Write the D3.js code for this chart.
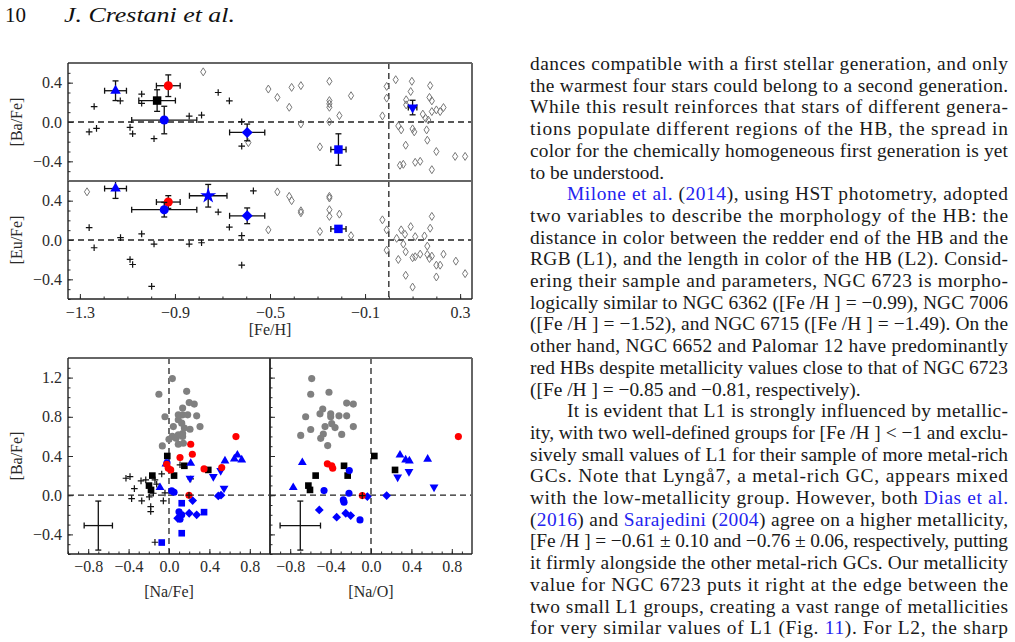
<!DOCTYPE html>
<html>
<head>
<meta charset="utf-8">
<script src="https://cdn.jsdelivr.net/npm/d3@7"></script>
<style>
  body { margin: 0; background: #fff; }
  svg { display: block; }
</style>
</head>
<body>
<script>
// ---------- data ----------

// top panels: small literature stars (+) and open-cluster stars (open diamonds)
var baPlus = [[-1.24,0.157],[-1.261,-0.10],[-1.23,-0.065],[-1.13,0.215],[-1.089,-0.055],[-1.078,-0.12],
  [-1.04,0.284],[-1.04,0.19],[-0.988,-0.17],[-0.84,0.06],[-0.788,0.07],[-0.718,0.30],[-0.671,0.215],
  [-0.619,0.003],[-0.619,-0.246]];
var euPlus = [[-1.261,0.126],[-1.24,-0.079],[-1.129,0.024],[-1.089,-0.198],[-1.078,-0.249],[-1.04,0.062],
  [-0.988,-0.041],[-0.998,-0.472],[-0.84,-0.041],[-0.788,-0.028],[-0.718,0.284],[-0.671,0.13],
  [-0.619,0.044],[-0.619,-0.256],[-0.57,0.50]];
var baOpen = [[-0.781,0.51],[-0.507,0.335],[-0.469,0.25],[-0.409,0.352],[-0.37,0.37],[-0.419,0.15],
  [-0.37,-0.02],[-0.25,0.414],[-0.25,0.218],[-0.25,0.185],[-0.25,0.15],[-0.25,0.003],[-0.208,0.065],
  [-0.159,0.267],[-0.29,-0.253],[-0.591,-0.21],[-0.027,0.062],[-0.009,0.362],[-0.009,0.243],[0.029,0.43],
  [0.073,0.226],[0.073,0.174],[0.097,0.414],[0.092,0.31],[0.04,-0.04],[0.052,-0.08],[0.10,-0.07],
  [0.107,-0.10],[0.071,-0.236],[0.047,-0.44],[0.061,-0.43],[0.111,-0.41],[0.132,-0.40],[0.174,0.37],
  [0.171,0.25],[0.181,0.215],[0.143,0.08],[0.155,0.038],[0.166,0.02],[0.181,0.106],[0.20,0.123],
  [0.216,0.106],[0.23,0.147],[0.159,-0.08],[0.162,-0.185],[0.20,-0.30],[0.181,-0.485],[0.279,-0.35],
  [0.321,-0.35]];
var euOpen = [[-1.27,0.49],[-0.469,0.489],[-0.419,0.444],[-0.409,0.40],[-0.37,0.297],[-0.37,0.277],
  [-0.507,0.103],[-0.29,0.086],[-0.25,0.444],[-0.25,0.427],[-0.25,0.308],[-0.25,0.24],[-0.208,0.263],
  [-0.159,0.044],[-0.027,0.205],[-0.009,0.103],[-0.009,-0.103],[0.033,0.017],[0.04,-0.198],[0.052,0.103],
  [0.061,-0.041],[0.068,0.058],[0.071,-0.12],[0.071,-0.359],[0.092,0.136],[0.10,-0.18],[0.111,-0.17],
  [0.111,0.034],[0.10,-0.479],[0.132,-0.144],[0.15,0.041],[0.162,-0.062],[0.162,-0.147],[0.171,-0.188],
  [0.174,0.12],[0.181,0.24],[0.181,-0.164],[0.20,-0.256],[0.20,-0.376],[0.216,-0.256],[0.23,-0.144],
  [0.282,-0.215],[0.321,-0.342]];

// top panels: cluster means with error bars
var grpKind   = ["triUp","red","black","circle","diamond","square","triDown","star"];
var grpFeH    = [-1.15, -0.928, -0.975, -0.945, -0.596, -0.212, 0.100, -0.76];
var grpFeHErr = [0.046, 0.05, 0.077, 0.137, 0.074, 0.032, 0.018, 0.079];
var grpBa     = [0.318, 0.369, 0.218, 0.02, -0.106, -0.28, 0.147, null];
var grpBaErr  = [0.10, 0.11, 0.11, 0.14, 0.085, 0.16, 0.074, null];
var grpEu     = [0.523, 0.386, null, 0.308, 0.246, 0.113, null, 0.45];
var grpEuErr  = [0.10, 0.065, null, 0.074, 0.08, 0.0, null, 0.115];

// bottom left: [Ba/Fe] vs [Na/Fe]
var naGray = [[-0.066,0.503],[-0.04,0.80],[-0.10,1.03],[0.033,1.19],[0.033,0.60],[0.043,0.70],[0.092,0.82],
  [0.092,0.77],[0.092,0.615],[0.126,0.735],[0.135,0.89],[0.135,0.82],[0.135,0.63],[0.135,0.60],[0.152,0.685],
  [0.175,1.06],[0.185,0.82],[0.20,0.945],[0.25,0.93],[0.274,0.81],[0.307,0.70],[0.208,0.673],[0.142,0.53],
  [0.092,0.52],[0.07,0.58],[0.0,0.57]];
var naRed = [[0.663,0.598],[0.215,0.52],[0.231,0.418],[0.109,0.384],[0.347,0.268],[0.522,0.282],
  [-0.023,0.316],[-0.007,0.275],[0.017,0.258],[0.198,0.0]];
var naBlack = [[-0.017,0.40],[0.152,0.30],[0.389,0.258],[-0.165,0.20],[0.05,0.20],[-0.198,0.098],[-0.178,0.054]];
var naTriUp = [[0.215,0.326],[-0.089,0.078],[0.554,0.35],[0.647,0.37],[0.677,0.41],[0.72,0.36],[-0.03,0.32]];
var naTriDown = [[0.208,0.173],[0.439,0.19],[0.512,0.251],[0.545,0.071]];
var naCircle = [[0.027,0.044],[0.05,0.03],[0.099,-0.17],[0.126,-0.2],[0.109,-0.245],[-0.02,0.33]];
var naSquare = [[0.126,-0.082],[0.126,-0.388],[0.347,-0.173],[-0.072,-0.483]];
var naDiamond = [[0.234,-0.055],[0.20,-0.184],[0.274,-0.2],[0.488,-0.007],[0.515,0.0],[0.086,-0.235]];
var naPlus = [[-0.426,0.173],[-0.386,0.19],[-0.343,0.067],[-0.37,-0.035],[-0.27,-0.058],[-0.277,0.146],
  [-0.23,0.156],[-0.195,-0.017],[-0.181,-0.116],[-0.181,-0.167],[-0.155,0.02],[-0.139,0.156],[-0.122,0.112],
  [-0.072,0.217],[-0.056,-0.058],[-0.04,0.023],[0.109,0.31],[0.215,0.166],[-0.139,-0.48],[0.198,0.0]];

// bottom right: [Ba/Fe] vs [Na/O]
var noGray = [[-0.587,1.19],[-0.597,1.03],[-0.416,1.05],[-0.241,0.94],[-0.175,0.93],[-0.478,0.88],
  [-0.505,0.83],[-0.647,0.80],[-0.399,0.83],[-0.399,0.80],[-0.317,0.81],[-0.241,0.81],[-0.455,0.70],
  [-0.389,0.73],[-0.356,0.69],[-0.597,0.67],[-0.175,0.70],[-0.696,0.61],[-0.29,0.62],[-0.472,0.625],
  [-0.498,0.58],[-0.429,0.506]];
var noRed = [[0.865,0.598],[-0.432,0.32],[-0.389,0.30],[-0.379,0.275],[-0.086,-0.004]];
var noBlack = [[0.033,0.40],[-0.267,0.30],[0.238,0.258],[-0.548,0.20],[-0.231,0.20],[-0.62,0.098],[-0.604,0.054]];
var noTriUp = [[-0.68,0.333],[-0.77,0.078],[0.287,0.41],[0.343,0.36],[0.38,0.35],[0.561,0.367]];
var noTriDown = [[0.376,0.241],[0.264,0.184],[0.624,0.082]];
var noCircle = [[-0.215,0.251],[-0.465,0.047],[-0.218,0.02],[-0.274,-0.048],[-0.267,-0.071],[-0.109,-0.252]];
var noDiamond = [[-0.036,-0.014],[0.155,-0.004],[-0.512,-0.15],[-0.34,-0.224],[-0.25,-0.184],[-0.201,-0.208]];
var noPlus = [[-0.086,-0.004]];

// typical error crosses (x, y, xerr, yerr)
var errLeft  = [-0.70, -0.31, 0.14, 0.25];
var errRight = [-0.70, -0.31, 0.20, 0.25];

// tick labels
var fehTicks = [-1.3, -0.9, -0.5, -0.1, 0.3];
var abTicks  = [-0.4, 0.0, 0.4];
var baTicks  = [-0.4, 0.0, 0.4, 0.8, 1.2];
var naTicks  = [-0.8, -0.4, 0.0, 0.4, 0.8];

// ---------- page ----------
var w = 1015, h = 642;
var serif = "Liberation Serif, DejaVu Serif, serif";
var blue = "#0000ff", red = "#ff0000";

var svg = d3.select("body").append("svg").attr("width", w).attr("height", h);

svg.append("text").attr("x", 5).attr("y", 22).attr("font-family", serif)
  .attr("font-size", 21).attr("fill", "#111").text("10");
svg.append("text").attr("x", 64).attr("y", 22).attr("font-family", serif)
  .attr("font-size", 21).attr("font-style", "italic").attr("fill", "#111")
  .attr("textLength", 171).attr("lengthAdjust", "spacingAndGlyphs").text("J. Crestani et al.");

// scales
var xFe = d3.scaleLinear().domain([-1.35, 0.35]).range([68, 472]);
var yBa = d3.scaleLinear().domain([-0.6, 0.6]).range([181, 63]);
var yEu = d3.scaleLinear().domain([-0.6, 0.6]).range([299, 181]);
var xNa = d3.scaleLinear().domain([-1, 1]).range([68, 270]);
var xNo = d3.scaleLinear().domain([-1, 1]).range([270, 472]);
var yB2 = d3.scaleLinear().domain([-0.6, 1.4]).range([554, 358]);

var tenths = function (a, b) { return d3.range(a, b + 1).map(function (i) { return i / 10; }); };

// marker shapes
var shapes = {
  circle:  d3.symbol().type(d3.symbolCircle).size(64)(),
  square:  d3.symbol().type(d3.symbolSquare).size(72)(),
  triUp:   d3.symbol().type(d3.symbolTriangle).size(48)(),
  star:    d3.symbol().type(d3.symbolStar).size(80)(),
  diamond: "M0,-5.5L5.5,0L0,5.5L-5.5,0Z",
  circleS: d3.symbol().type(d3.symbolCircle).size(40)(),
  squareS: d3.symbol().type(d3.symbolSquare).size(44)(),
  triS:    d3.symbol().type(d3.symbolTriangle).size(34)(),
  diamondS:"M0,-4.4L4.4,0L0,4.4L-4.4,0Z",
  thin:    "M0,-4L2.6,0L0,4L-2.6,0Z",
  plus:    "M-3.3,0H3.3M0,-3.3V3.3"
};

function clip(id, x0, y0, x1, y1) {
  svg.append("clipPath").attr("id", id).append("rect")
    .attr("x", x0).attr("y", y0).attr("width", x1 - x0).attr("height", y1 - y0);
  return svg.append("g").attr("clip-path", "url(#" + id + ")");
}

function points(g, data, xs, ys, path, fill, stroke, sw, flip) {
  g.append("g").selectAll("path").data(data).enter().append("path")
    .attr("d", path)
    .attr("transform", function (d) {
      return "translate(" + xs(d[0]) + "," + ys(d[1]) + ")" + (flip ? " rotate(180)" : "");
    })
    .attr("fill", fill).attr("stroke", stroke || "none").attr("stroke-width", sw || 1);
}

function errbar(g, x, y, xe, ye, xs, ys, cap) {
  var e = g.append("g").attr("stroke", "#111").attr("stroke-width", 1.3).attr("fill", "none");
  if (xe > 0) {
    e.append("line").attr("x1", xs(x - xe)).attr("x2", xs(x + xe)).attr("y1", ys(y)).attr("y2", ys(y));
    [x - xe, x + xe].forEach(function (v) {
      e.append("line").attr("x1", xs(v)).attr("x2", xs(v)).attr("y1", ys(y) - cap).attr("y2", ys(y) + cap);
    });
  }
  if (ye > 0) {
    e.append("line").attr("x1", xs(x)).attr("x2", xs(x)).attr("y1", ys(y - ye)).attr("y2", ys(y + ye));
    [y - ye, y + ye].forEach(function (v) {
      e.append("line").attr("y1", ys(v)).attr("y2", ys(v)).attr("x1", xs(x) - cap).attr("x2", xs(x) + cap);
    });
  }
}

function dashed(g, x1, y1, x2, y2) {
  g.append("line").attr("x1", x1).attr("y1", y1).attr("x2", x2).attr("y2", y2)
    .attr("stroke", "#222").attr("stroke-width", 1.3).attr("stroke-dasharray", "6,4");
}

function styleAxis(s) {
  s.select(".domain").remove();
  s.attr("font-family", serif).attr("font-size", 16).attr("color", "#2a2a2a");
  s.selectAll(".tick line").attr("stroke-width", 1);
}

function leftAxis(y, x0, major, minor, labels) {
  svg.append("g").attr("transform", "translate(" + x0 + ",0)")
    .call(d3.axisLeft(y).tickValues(minor).tickSize(-2.5).tickFormat("")).call(styleAxis);
  svg.append("g").attr("transform", "translate(" + x0 + ",0)")
    .call(d3.axisLeft(y).tickValues(major).tickSize(-5).tickPadding(6)
      .tickFormat(labels ? d3.format(".1f") : "")).call(styleAxis);
}

function bottomAxis(x, y0, major, minor, pad) {
  svg.append("g").attr("transform", "translate(0," + y0 + ")")
    .call(d3.axisBottom(x).tickValues(minor).tickSize(-2.5).tickFormat("")).call(styleAxis);
  svg.append("g").attr("transform", "translate(0," + y0 + ")")
    .call(d3.axisBottom(x).tickValues(major).tickSize(-5).tickPadding(pad)
      .tickFormat(d3.format(".1f"))).call(styleAxis);
}

function frame(x0, y0, x1, y1) {
  svg.append("line").attr("x1", x0).attr("x2", x1).attr("y1", y0).attr("y2", y0)
    .attr("stroke", "#666").attr("stroke-width", 2.2);
  svg.append("line").attr("x1", x1).attr("x2", x1).attr("y1", y0).attr("y2", y1)
    .attr("stroke", "#666").attr("stroke-width", 2);
  svg.append("line").attr("x1", x0).attr("x2", x0).attr("y1", y0).attr("y2", y1)
    .attr("stroke", "#222").attr("stroke-width", 1.4);
  svg.append("line").attr("x1", x0).attr("x2", x1).attr("y1", y1).attr("y2", y1)
    .attr("stroke", "#222").attr("stroke-width", 1.4);
}

function axisLabel(text, x, y, rotate) {
  svg.append("text").attr("font-family", serif).attr("font-size", 16).attr("fill", "#2a2a2a")
    .attr("text-anchor", "middle")
    .attr("transform", "translate(" + x + "," + y + ")" + (rotate ? " rotate(-90)" : ""))
    .text(text);
}

// ---------- top figure: [Ba/Fe] and [Eu/Fe] vs [Fe/H] ----------
var topPanels = [
  { y: yBa, y0: 63, y1: 181, plus: baPlus, open: baOpen, val: grpBa, err: grpBaErr, id: "cBa" },
  { y: yEu, y0: 181, y1: 299, plus: euPlus, open: euOpen, val: grpEu, err: grpEuErr, id: "cEu" }
];

topPanels.forEach(function (p) {
  var g = clip(p.id, 68, p.y0, 472, p.y1);
  dashed(g, 68, p.y(0), 472, p.y(0));
  dashed(g, xFe(0), p.y0, xFe(0), p.y1);
  points(g, p.open, xFe, p.y, shapes.thin, "none", "#777", 1);
  points(g, p.plus, xFe, p.y, shapes.plus, "none", "#111", 1.2);
  grpKind.forEach(function (k, i) {
    if (p.val[i] === null) return;
    errbar(g, grpFeH[i], p.val[i], grpFeHErr[i], p.err[i], xFe, p.y, 3);
    var d = [[grpFeH[i], p.val[i]]];
    if (k === "triUp")   points(g, d, xFe, p.y, shapes.triUp, blue);
    if (k === "triDown") points(g, d, xFe, p.y, shapes.triUp, blue, null, 1, true);
    if (k === "red")     points(g, d, xFe, p.y, shapes.circle, red);
    if (k === "black")   points(g, d, xFe, p.y, shapes.square, "#000");
    if (k === "circle")  points(g, d, xFe, p.y, shapes.circle, blue);
    if (k === "diamond") points(g, d, xFe, p.y, shapes.diamond, blue);
    if (k === "square")  points(g, d, xFe, p.y, shapes.square, blue);
    if (k === "star")    points(g, d, xFe, p.y, shapes.star, blue);
  });
  leftAxis(p.y, 68, abTicks, tenths(-6, 6), true);
  frame(68, p.y0, 472, p.y1);
});
bottomAxis(xFe, 299, fehTicks, tenths(-13, 3), 8);
axisLabel("[Ba/Fe]", 22, 122, true);
axisLabel("[Eu/Fe]", 22, 240, true);
axisLabel("[Fe/H]", 270, 335, false);

// ---------- bottom figure: [Ba/Fe] vs [Na/Fe] and [Na/O] ----------
var botPanels = [
  { x: xNa, x0: 68, x1: 270, id: "cNa", gray: naGray, red: naRed, black: naBlack, up: naTriUp,
    down: naTriDown, circ: naCircle, sq: naSquare, dia: naDiamond, plus: naPlus, err: errLeft },
  { x: xNo, x0: 270, x1: 472, id: "cNo", gray: noGray, red: noRed, black: noBlack, up: noTriUp,
    down: noTriDown, circ: noCircle, sq: [], dia: noDiamond, plus: noPlus, err: errRight }
];

botPanels.forEach(function (p) {
  var g = clip(p.id, p.x0, 358, p.x1, 554);
  dashed(g, p.x0, yB2(0), p.x1, yB2(0));
  dashed(g, p.x(0), 358, p.x(0), 554);
  errbar(g, p.err[0], p.err[1], p.err[2], p.err[3], p.x, yB2, 3);
  points(g, p.gray, p.x, yB2, shapes.circleS, "#808080");
  points(g, p.plus.slice(0, -1), p.x, yB2, shapes.plus, "none", "#111", 1.2);
  points(g, p.black, p.x, yB2, shapes.squareS, "#000");
  points(g, p.up, p.x, yB2, shapes.triS, blue);
  points(g, p.down, p.x, yB2, shapes.triS, blue, null, 1, true);
  points(g, p.circ, p.x, yB2, shapes.circleS, blue);
  points(g, p.sq, p.x, yB2, shapes.squareS, blue);
  points(g, p.dia, p.x, yB2, shapes.diamondS, blue);
  points(g, p.red, p.x, yB2, shapes.circleS, red);
  points(g, p.plus.slice(-1), p.x, yB2, shapes.plus, "none", "#111", 1.2);
  bottomAxis(p.x, 554, naTicks, tenths(-10, 10), 7);
  leftAxis(yB2, p.x0, baTicks, tenths(-6, 14), p.x0 === 68);
  frame(p.x0, 358, p.x1, 554);
});
axisLabel("[Ba/Fe]", 22, 456, true);
axisLabel("[Na/Fe]", 169, 597, false);
axisLabel("[Na/O]", 371, 597, false);

// ---------- text column ----------
// each line: [indent, justify, segments]; a segment is [text, isLink]
var textLines = [
  [0, 1, [["dances compatible with a first stellar generation, and only"]]],
  [0, 1, [["the warmest four stars could belong to a second generation."]]],
  [0, 1, [["While this result reinforces that stars of different genera-"]]],
  [0, 1, [["tions populate different regions of the HB, the spread in"]]],
  [0, 1, [["color for the chemically homogeneous first generation is yet"]]],
  [0, 0, [["to be understood."]]],
  [1, 1, [["Milone et al.", 1], [" ("], ["2014", 1], ["), using HST photometry, adopted"]]],
  [0, 1, [["two variables to describe the morphology of the HB: the"]]],
  [0, 1, [["distance in color between the redder end of the HB and the"]]],
  [0, 1, [["RGB (L1), and the length in color of the HB (L2). Consid-"]]],
  [0, 1, [["ering their sample and parameters, NGC 6723 is morpho-"]]],
  [0, 1, [["logically similar to NGC 6362 ([Fe /H ] = \u22120.99), NGC 7006"]]],
  [0, 1, [["([Fe /H ] = \u22121.52), and NGC 6715 ([Fe /H ] = \u22121.49). On the"]]],
  [0, 1, [["other hand, NGC 6652 and Palomar 12 have predominantly"]]],
  [0, 1, [["red HBs despite metallicity values close to that of NGC 6723"]]],
  [0, 0, [["([Fe /H ] = \u22120.85 and \u22120.81, respectively)."]]],
  [1, 1, [["It is evident that L1 is strongly influenced by metallic-"]]],
  [0, 1, [["ity, with two well-defined groups for [Fe /H ] < \u22121 and exclu-"]]],
  [0, 1, [["sively small values of L1 for their sample of more metal-rich"]]],
  [0, 1, [["GCs. Note that Lyng\u00e57, a metal-rich GC, appears mixed"]]],
  [0, 1, [["with the low-metallicity group. However, both "], ["Dias et al.", 1]]],
  [0, 1, [["("], ["2016", 1], [") and "], ["Sarajedini", 1], [" ("], ["2004", 1], [") agree on a higher metallicity,"]]],
  [0, 1, [["[Fe /H ] = \u22120.61 \u00b1 0.10 and \u22120.76 \u00b1 0.06, respectively, putting"]]],
  [0, 1, [["it firmly alongside the other metal-rich GCs. Our metallicity"]]],
  [0, 1, [["value for NGC 6723 puts it right at the edge between the"]]],
  [0, 1, [["two small L1 groups, creating a vast range of metallicities"]]],
  [0, 1, [["for very similar values of L1 (Fig. "], ["11", 1], ["). For L2, the sharp"]]]
];

var colLeft = 530, colRight = 1008, indent = 37, lineStep = 21.7, firstBase = 70;
textLines.forEach(function (ln, i) {
  var x = colLeft + (ln[0] ? indent : 0);
  var t = svg.append("text").attr("x", x).attr("y", firstBase + i * lineStep)
    .attr("font-family", serif).attr("font-size", 19.4).attr("fill", "#1a1a1a")
    .attr("xml:space", "preserve");
  if (ln[1]) t.attr("textLength", colRight - x).attr("lengthAdjust", "spacing");
  ln[2].forEach(function (s) {
    t.append("tspan").attr("fill", s[1] ? "#2323f0" : "#1a1a1a").text(s[0]);
  });
});
</script>
</body>
</html>
